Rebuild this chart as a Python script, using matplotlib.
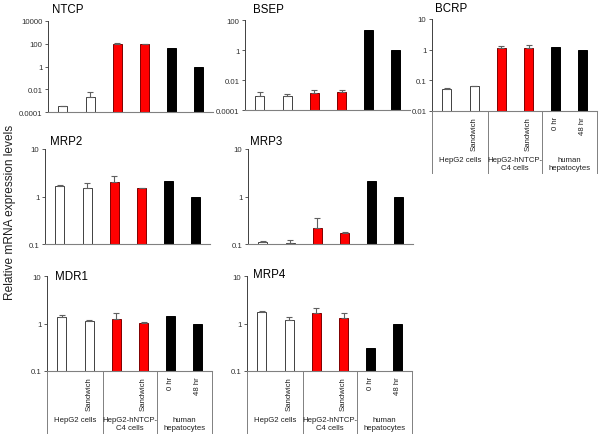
import matplotlib
matplotlib.use("Agg")
import matplotlib.pyplot as plt

plt.rcParams['font.family'] = ['Liberation Sans', 'DejaVu Sans']

W, H = 602, 439

# ---- data ----
bar_colors = ['white', 'white', '#ff0000', '#ff0000', 'black', 'black']
edge_colors = ['#404040', '#404040', '#800000', '#800000', 'black', 'black']
sub_labels = ['', 'Sandwich', '', 'Sandwich', '0 hr', '48 hr']
group_labels = ['HepG2 cells', 'HepG2-hNTCP-\nC4 cells', 'human\nhepatocytes']

ntcp = [3.4e-4, 2.2e-3, 95, 100, 40, 1]
ntcp_top = [3.7e-4, 5.4e-3, 110, 103]
bsep = [9e-4, 9e-4, 1.4e-3, 1.5e-3, 21, 1]
bsep_top = [1.5e-3, 1.1e-3, 2.2e-3, 2.3e-3]
bcrp = [0.054, 0.063, 1.15, 1.15, 1.25, 1.0]
bcrp_top = [0.057, 0.067, 1.3, 1.4]
mrp2 = [1.7, 1.5, 2.05, 1.5, 2.15, 1]
mrp2_top = [1.77, 1.9, 2.7, 1.53]
mrp3 = [0.108, 0.107, 0.218, 0.171, 2.17, 1]
mrp3_top = [0.114, 0.12, 0.35, 0.18]
mdr1 = [1.39, 1.15, 1.22, 1.02, 1.46, 1]
mdr1_top = [1.53, 1.2, 1.63, 1.08]
mrp4 = [1.74, 1.16, 1.65, 1.3, 0.31, 1]
mrp4_top = [1.8, 1.37, 2.1, 1.65]

ticks_ntcp = [1e-4, 1e-2, 1, 100, 1e4]
tlab_ntcp = ['0.0001', '0.01', '1', '100', '10000']
ticks_bsep = [1e-4, 1e-2, 1, 100]
tlab_bsep = ['0.0001', '0.01', '1', '100']
ticks_bcrp = [0.01, 0.1, 1, 10]
tlab_bcrp = ['0.01', '0.1', '1', '10']
ticks_std = [0.1, 1, 10]
tlab_std = ['0.1', '1', '10']

# panel: name, values, tops, ticks, ticklabels, x_left(px), y_top(px), y_bottom(px), title pos, xlabels
panels = [
    ('NTCP', ntcp, ntcp_top, ticks_ntcp, tlab_ntcp, 48, 22, 113, (52, 10), False),
    ('BSEP', bsep, bsep_top, ticks_bsep, tlab_bsep, 245, 21, 111, (253, 10), False),
    ('BCRP', bcrp, bcrp_top, ticks_bcrp, tlab_bcrp, 432, 20, 112, (435, 9), True),
    ('MRP2', mrp2, mrp2_top, ticks_std, tlab_std, 45, 150, 245, (50, 142), False),
    ('MRP3', mrp3, mrp3_top, ticks_std, tlab_std, 248, 150, 245, (250, 142), False),
    ('MDR1', mdr1, mdr1_top, ticks_std, tlab_std, 47, 277, 372, (55, 277), True),
    ('MRP4', mrp4, mrp4_top, ticks_std, tlab_std, 247, 277, 372, (253, 275), True),
]

fig = plt.figure(figsize=(W / 100, H / 100), dpi=100)
XMIN, XMAX = -0.55, 5.5
spacing = 27.2
width_px = (XMAX - XMIN) * spacing
axis_col = '#808080'

for name, vals, tops, ticks, tlabs, xl, yt, yb, tpos, xlab in panels:
    ax = fig.add_axes([xl / W, 1 - yb / H, width_px / W, (yb - yt) / H])
    ax.set_yscale('log')
    x = list(range(len(vals)))
    base = ticks[0]
    heights = [v - base for v in vals]
    ax.bar(x, heights, width=0.33, bottom=base, color=bar_colors,
           edgecolor=edge_colors, linewidth=0.7, zorder=2)
    for i, t in enumerate(tops):
        ax.errorbar([i], [vals[i]], yerr=[[0], [t - vals[i]]], fmt='none',
                    ecolor='#606060', elinewidth=0.8, capsize=2.2, capthick=0.8, zorder=3)
    ax.set_ylim(ticks[0], ticks[-1])
    ax.set_xlim(XMIN, XMAX)
    ax.set_yticks(ticks)
    ax.set_yticklabels(tlabs)
    ax.yaxis.set_minor_locator(matplotlib.ticker.NullLocator())
    ax.tick_params(axis='y', labelsize=5.6, length=2.5, width=0.6, color='#404040',
                   labelcolor='#303030', pad=1.5)
    ax.set_xticks([])
    for s in ['top', 'right']:
        ax.spines[s].set_visible(False)
    ax.spines['left'].set_color('#404040')
    ax.spines['left'].set_linewidth(0.7)
    ax.spines['bottom'].set_color(axis_col)
    ax.spines['bottom'].set_linewidth(0.8)
    ax.patch.set_visible(False)
    fig.text(tpos[0] / W, 1 - tpos[1] / H, name, fontsize=8.3, ha='left', va='center')

    if xlab:
        trans = ax.get_xaxis_transform()
        for xd in [XMIN, 1.5, 3.5, 5.5]:
            ax.plot([xd, xd], [0, -62 / (yb - yt)], transform=trans, color=axis_col,
                    lw=0.7, clip_on=False)
        for i, lab in enumerate(sub_labels):
            if lab:
                ax.text(i, -5 / (yb - yt), lab, transform=trans, rotation=90,
                        ha='center', va='top', fontsize=5.6, color='#202020')
        for g, lab in enumerate(group_labels):
            ax.text(2 * g + 0.5, -45 / (yb - yt), lab, transform=trans,
                    ha='center', va='top', fontsize=5.6, color='#202020', linespacing=1.25)

fig.text(10 / W, 1 - 212 / H, 'Relative mRNA expression levels', rotation=90,
         ha='center', va='center', fontsize=8.6, color='#202020')

fig.savefig('out.png', dpi=100)
